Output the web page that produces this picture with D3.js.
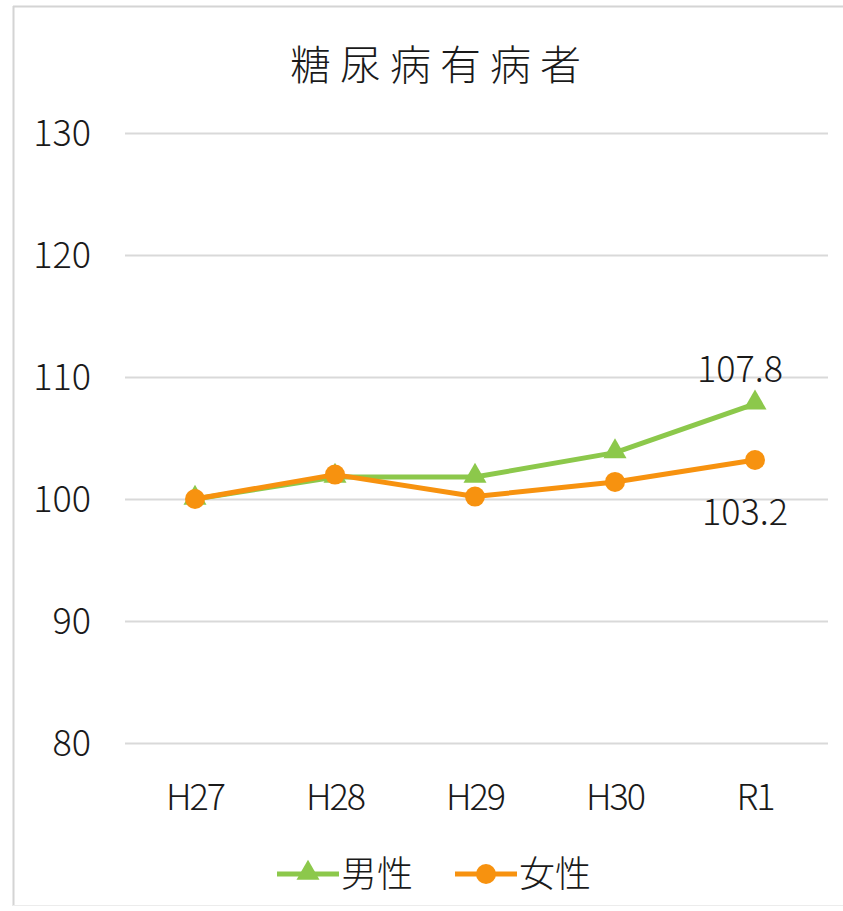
<!DOCTYPE html>
<html lang="ja">
<head>
<meta charset="utf-8">
<script src="https://d3js.org/d3.v7.min.js"></script>
<style>
  body { margin: 0; background: #fff; overflow: hidden; }
  svg { display: block; }
  .num { font-family: "Noto Sans CJK JP", sans-serif; font-weight: 300; font-size: 36px; fill: #1a1a1a; }
  .jp { font-family: "Noto Sans CJK JP", sans-serif; font-weight: 300; fill: #1a1a1a; }
</style>
</head>
<body>
<svg id="chart" width="843" height="911"></svg>
<script>
// data
const years = ["H27", "H28", "H29", "H30", "R1"];
const male = [100, 101.8, 101.8, 103.8, 107.8];
const female = [100, 102.0, 100.2, 101.4, 103.2];
const yTicks = [80, 90, 100, 110, 120, 130];
const title = "糖尿病有病者";

const green = "#8cc84b";
const orange = "#f7920f";

const svg = d3.select("#chart");

// frame: only top / left / bottom show in the picture
svg.append("line").attr("x1", 13).attr("x2", 843).attr("y1", 6.5).attr("y2", 6.5)
  .attr("stroke", "#d4d4d4").attr("stroke-width", 2);
svg.append("line").attr("x1", 13.5).attr("x2", 13.5).attr("y1", 6).attr("y2", 906)
  .attr("stroke", "#d4d4d4").attr("stroke-width", 2);
svg.append("line").attr("x1", 13).attr("x2", 843).attr("y1", 905.5).attr("y2", 905.5)
  .attr("stroke", "#ececec").attr("stroke-width", 1);

const x = d3.scaleBand().domain(years).range([125, 825]);
const y = d3.scaleLinear().domain([80, 130]).range([743, 133]);

svg.append("text")
  .attr("class", "jp")
  .attr("x", 440).attr("y", 80)
  .attr("text-anchor", "middle")
  .attr("font-size", 41)
  .attr("letter-spacing", 9)
  .text(title);

// gridlines + y labels
const yAxis = d3.axisLeft(y).tickValues(yTicks).tickSize(-703).tickPadding(34);
const gy = svg.append("g").attr("transform", "translate(125,0)").call(yAxis);
gy.select(".domain").remove();
gy.selectAll(".tick line").attr("stroke", "#d9d9d9").attr("stroke-width", 2);
gy.selectAll(".tick text").attr("class", "num").attr("fill", null).attr("font-size", null)
  .attr("font-family", null).attr("dy", "0.36em");

// x labels
const xAxis = d3.axisBottom(x).tickSize(0).tickPadding(41);
const gx = svg.append("g").attr("transform", "translate(0,743)").call(xAxis);
gx.select(".domain").remove();
gx.selectAll(".tick text").attr("class", "num").attr("fill", null).attr("font-size", null)
  .attr("font-family", null).attr("letter-spacing", -2);

const cx = d => x(d) + x.bandwidth() / 2;
const line = d3.line().x((d, i) => cx(years[i])).y(d => y(d));

const tri = d3.symbol().type(d3.symbolTriangle).size(230);

// male
svg.append("path").datum(male).attr("d", line)
  .attr("fill", "none").attr("stroke", green).attr("stroke-width", 5).attr("stroke-linejoin", "round");
svg.selectAll(".m").data(male).join("path")
  .attr("class", "m")
  .attr("d", tri)
  .attr("transform", (d, i) => `translate(${cx(years[i])},${y(d) - 1})`)
  .attr("fill", green);

// female
svg.append("path").datum(female).attr("d", line)
  .attr("fill", "none").attr("stroke", orange).attr("stroke-width", 5).attr("stroke-linejoin", "round");
svg.selectAll(".f").data(female).join("circle")
  .attr("class", "f")
  .attr("cx", (d, i) => cx(years[i])).attr("cy", d => y(d))
  .attr("r", 10).attr("fill", orange);

// end labels
const last = years.length - 1;
svg.append("text").attr("class", "num")
  .attr("x", cx(years[last]) - 15).attr("y", y(male[last]) - 22)
  .attr("text-anchor", "middle").text(male[last].toFixed(1));
svg.append("text").attr("class", "num")
  .attr("x", cx(years[last]) - 10).attr("y", y(female[last]) + 65)
  .attr("text-anchor", "middle").text(female[last].toFixed(1));

// legend
const legend = [
  { name: "男性", color: green, shape: "tri", x0: 277 },
  { name: "女性", color: orange, shape: "circle", x0: 455 }
];
legend.forEach(l => {
  const g = svg.append("g").attr("transform", `translate(${l.x0},874)`);
  g.append("line").attr("x1", 0).attr("x2", 62).attr("stroke", l.color).attr("stroke-width", 5);
  if (l.shape === "tri") {
    g.append("path").attr("d", tri).attr("transform", "translate(31,-1)").attr("fill", l.color);
  } else {
    g.append("circle").attr("cx", 31).attr("r", 10).attr("fill", l.color);
  }
  g.append("text").attr("class", "jp").attr("x", 64).attr("y", 13)
    .attr("font-size", 36).text(l.name);
});
</script>
</body>
</html>
